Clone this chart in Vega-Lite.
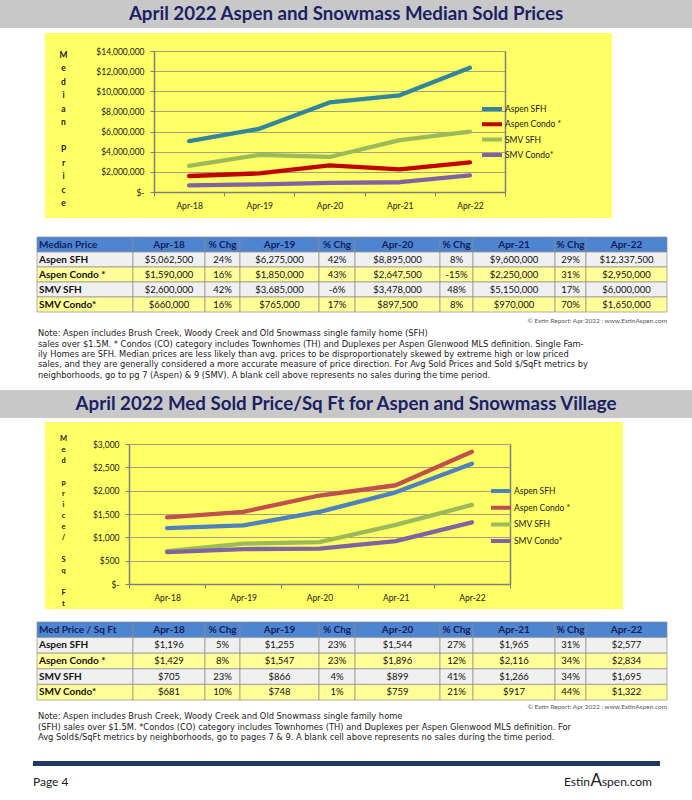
{
"$schema": "https://vega.github.io/schema/vega-lite/v6.json",
"padding": 0,
"background": "white",
"spacing": 0,
"config": {"view": {"stroke": null}, "concat": {"spacing": 0}},
"resolve": {"scale": {"color": "independent"}, "legend": {"color": "independent"}},
"datasets": {
"med": [
{"period":"Apr-18","series":"Aspen SFH","value":5062500},{"period":"Apr-19","series":"Aspen SFH","value":6275000},{"period":"Apr-20","series":"Aspen SFH","value":8895000},{"period":"Apr-21","series":"Aspen SFH","value":9600000},{"period":"Apr-22","series":"Aspen SFH","value":12337500},
{"period":"Apr-18","series":"Aspen Condo *","value":1590000},{"period":"Apr-19","series":"Aspen Condo *","value":1850000},{"period":"Apr-20","series":"Aspen Condo *","value":2647500},{"period":"Apr-21","series":"Aspen Condo *","value":2250000},{"period":"Apr-22","series":"Aspen Condo *","value":2950000},
{"period":"Apr-18","series":"SMV SFH","value":2600000},{"period":"Apr-19","series":"SMV SFH","value":3685000},{"period":"Apr-20","series":"SMV SFH","value":3478000},{"period":"Apr-21","series":"SMV SFH","value":5150000},{"period":"Apr-22","series":"SMV SFH","value":6000000},
{"period":"Apr-18","series":"SMV Condo*","value":660000},{"period":"Apr-19","series":"SMV Condo*","value":765000},{"period":"Apr-20","series":"SMV Condo*","value":897500},{"period":"Apr-21","series":"SMV Condo*","value":970000},{"period":"Apr-22","series":"SMV Condo*","value":1650000}
],
"psf": [
{"period":"Apr-18","series":"Aspen SFH","value":1196},{"period":"Apr-19","series":"Aspen SFH","value":1255},{"period":"Apr-20","series":"Aspen SFH","value":1544},{"period":"Apr-21","series":"Aspen SFH","value":1965},{"period":"Apr-22","series":"Aspen SFH","value":2577},
{"period":"Apr-18","series":"Aspen Condo *","value":1429},{"period":"Apr-19","series":"Aspen Condo *","value":1547},{"period":"Apr-20","series":"Aspen Condo *","value":1896},{"period":"Apr-21","series":"Aspen Condo *","value":2116},{"period":"Apr-22","series":"Aspen Condo *","value":2834},
{"period":"Apr-18","series":"SMV SFH","value":705},{"period":"Apr-19","series":"SMV SFH","value":866},{"period":"Apr-20","series":"SMV SFH","value":899},{"period":"Apr-21","series":"SMV SFH","value":1266},{"period":"Apr-22","series":"SMV SFH","value":1695},
{"period":"Apr-18","series":"SMV Condo*","value":681},{"period":"Apr-19","series":"SMV Condo*","value":748},{"period":"Apr-20","series":"SMV Condo*","value":759},{"period":"Apr-21","series":"SMV Condo*","value":917},{"period":"Apr-22","series":"SMV Condo*","value":1322}
],
"t1": [
{"r":0,"c0":"Median Price","a18":"Apr-18","p19":"% Chg","a19":"Apr-19","p20":"% Chg","a20":"Apr-20","p21":"% Chg","a21":"Apr-21","p22":"% Chg","a22":"Apr-22"},
{"r":1,"c0":"Aspen SFH","a18":"$5,062,500","p19":"24%","a19":"$6,275,000","p20":"42%","a20":"$8,895,000","p21":"8%","a21":"$9,600,000","p22":"29%","a22":"$12,337,500"},
{"r":2,"c0":"Aspen Condo *","a18":"$1,590,000","p19":"16%","a19":"$1,850,000","p20":"43%","a20":"$2,647,500","p21":"-15%","a21":"$2,250,000","p22":"31%","a22":"$2,950,000"},
{"r":3,"c0":"SMV SFH","a18":"$2,600,000","p19":"42%","a19":"$3,685,000","p20":"-6%","a20":"$3,478,000","p21":"48%","a21":"$5,150,000","p22":"17%","a22":"$6,000,000"},
{"r":4,"c0":"SMV Condo*","a18":"$660,000","p19":"16%","a19":"$765,000","p20":"17%","a20":"$897,500","p21":"8%","a21":"$970,000","p22":"70%","a22":"$1,650,000"}
],
"t2": [
{"r":0,"c0":"Med Price / Sq Ft","a18":"Apr-18","p19":"% Chg","a19":"Apr-19","p20":"% Chg","a20":"Apr-20","p21":"% Chg","a21":"Apr-21","p22":"% Chg","a22":"Apr-22"},
{"r":1,"c0":"Aspen SFH","a18":"$1,196","p19":"5%","a19":"$1,255","p20":"23%","a20":"$1,544","p21":"27%","a21":"$1,965","p22":"31%","a22":"$2,577"},
{"r":2,"c0":"Aspen Condo *","a18":"$1,429","p19":"8%","a19":"$1,547","p20":"23%","a20":"$1,896","p21":"12%","a21":"$2,116","p22":"34%","a22":"$2,834"},
{"r":3,"c0":"SMV SFH","a18":"$705","p19":"23%","a19":"$866","p20":"4%","a20":"$899","p21":"41%","a21":"$1,266","p22":"34%","a22":"$1,695"},
{"r":4,"c0":"SMV Condo*","a18":"$681","p19":"10%","a19":"$748","p20":"1%","a20":"$759","p21":"21%","a21":"$917","p22":"44%","a22":"$1,322"}
],
"n1": [
{"ln":1,"text":"Note: Aspen includes Brush Creek, Woody Creek and Old Snowmass single family home (SFH)"},
{"ln":2,"text":"sales over $1.5M.  * Condos (CO) category includes Townhomes (TH) and Duplexes per Aspen Glenwood MLS definition. Single Fam-"},
{"ln":3,"text":"ily Homes are SFH. Median prices are less likely than avg. prices to be disproportionately skewed by extreme high or low priced"},
{"ln":4,"text":"sales, and they are generally considered a more accurate measure of price direction. For Avg Sold Prices and Sold $/SqFt metrics by"},
{"ln":5,"text":"neighborhoods, go to pg 7 (Aspen) & 9 (SMV). A blank cell above represents no sales during the time period."}
],
"n2": [
{"ln":1,"text":"Note: Aspen includes Brush Creek, Woody Creek and Old Snowmass single family home"},
{"ln":2,"text":"(SFH) sales over $1.5M. *Condos (CO) category includes Townhomes (TH) and Duplexes per Aspen Glenwood MLS definition. For"},
{"ln":3,"text":"Avg Sold$/SqFt metrics by neighborhoods, go to pages 7 & 9. A blank cell above represents no sales during the time period."}
]
},
"vconcat": [
{"width": 692, "height": 28, "view": {"fill": "#C8C8C8"}, "data": {"values": [{"t": "April 2022 Aspen and Snowmass Median Sold Prices"}]}, "mark": {"type": "text", "font": "Lato", "fontSize": 18.7, "fontWeight": "bold", "color": "#1B2264"}, "encoding": {"text": {"field": "t", "type": "nominal"}}},
{"width": 1, "height": 5, "data": {"values": []}, "mark": "point"},
{"hconcat": [
 {"width": 45, "height": 203, "data": {"values": []}, "mark": "point"},
 {"width": 567, "height": 185, "view": {"fill": "#FFFF66"}, "data": {"name": "med"},
  "layer": [
   {"mark": {"type": "line", "strokeWidth": 4.3, "strokeCap": "round", "strokeJoin": "round"},
    "encoding": {
     "x": {"field": "period", "type": "ordinal", "sort": null, "scale": {"type": "band", "range": [109, 460], "paddingInner": 0, "paddingOuter": 0},
       "axis": {"orient": "bottom", "offset": -26, "title": null, "labelAngle": 0, "grid": false, "domainColor": "#7F7F7F", "domainWidth": 1.5, "tickBand": "extent", "tickColor": "#7F7F7F", "tickSize": 4, "labelPadding": 5, "labelFont": "Lato", "labelFontSize": 8.5, "labelColor": "#1A1A1A"}},
     "y": {"field": "value", "type": "quantitative", "scale": {"domain": [0, 14000000], "range": [159, 18], "nice": false},
       "axis": {"orient": "left", "offset": -109, "values": [0,2000000,4000000,6000000,8000000,10000000,12000000,14000000], "labelExpr": "datum.value == 0 ? '$-' : format(datum.value, '$,')", "grid": true, "gridColor": "#8C8C8C", "gridWidth": 0.8, "domainColor": "#7F7F7F", "domainWidth": 1.5, "tickColor": "#7F7F7F", "tickSize": 4, "labelFont": "Lato", "labelFontSize": 8.5, "labelColor": "#1A1A1A", "labelPadding": 6,
         "title": ["M","e","d","i","a","n"], "titleAngle": 0, "titleX": -91, "titleY": 17, "titleAlign": "center", "titleBaseline": "top", "titleFont": "Lato", "titleFontSize": 8.5, "titleFontWeight": "bold", "titleLineHeight": 13.5, "titleColor": "#1A1A1A"}},
     "color": {"field": "series", "type": "nominal", "sort": null, "scale": {"domain": ["Aspen SFH","Aspen Condo *","SMV SFH","SMV Condo*"], "range": ["#31869B","#C00000","#9BBB59","#8064A2"]},
       "legend": {"orient": "none", "legendX": 480, "legendY": 71.5, "title": null, "symbolType": "stroke", "symbolStrokeWidth": 4, "symbolSize": 400, "clipHeight": 9, "rowPadding": 6.3, "labelOffset": 1, "labelFont": "Lato", "labelFontSize": 8.5, "labelColor": "#1A1A1A"}}
    }},
   {"mark": {"type": "point", "opacity": 0},
    "encoding": {
     "x": {"field": "period", "type": "ordinal", "sort": null},
     "y": {"field": "value", "type": "quantitative", "axis": {"orient": "right", "offset": -107, "labels": false, "ticks": false, "grid": false, "domainColor": "#7F7F7F", "domainWidth": 1.5,
        "title": ["P","r","i","c","e"], "titleAngle": 0, "titleX": -442, "titleY": 111.5, "titleAlign": "center", "titleBaseline": "top", "titleFont": "Lato", "titleFontSize": 8.5, "titleFontWeight": "bold", "titleLineHeight": 13.5, "titleColor": "#1A1A1A"}}
    }}
  ],
  "resolve": {"axis": {"y": "independent"}}
 }
], "spacing": 0, "bounds": "flush"},
{"hconcat": [
 {"width": 37, "height": 75, "data": {"values": []}, "mark": "point"},
 {"width": 96, "height": 75, "data": {"name": "t1"}, "encoding": {"y": {"field": "r", "type": "ordinal", "axis": null, "scale": {"domain": [0,1,2,3,4], "paddingInner": 0, "paddingOuter": 0}}},
  "layer": [
   {"mark": {"type": "rect", "stroke": "#8E8E8E", "strokeWidth": 0.7}, "encoding": {"fill": {"field": "r", "type": "ordinal", "legend": null, "scale": {"domain": [0,1,2,3,4], "range": ["#4D85D1","#F0F0F0","#FFFF99","#F0F0F0","#FFFF99"]}}}},
   {"transform": [{"filter": "datum.r == 0"}], "mark": {"type": "text", "align": "left", "dx": 2, "font": "Lato", "fontSize": 10, "fontWeight": "bold", "color": "#13205A"}, "encoding": {"x": {"datum": 0, "type": "quantitative", "scale": {"domain": [0, 1]}, "axis": null}, "text": {"field": "c0", "type": "nominal"}}},
   {"transform": [{"filter": "datum.r > 0"}], "mark": {"type": "text", "align": "left", "dx": 2, "font": "Lato", "fontSize": 10, "fontWeight": "bold", "color": "#111111"}, "encoding": {"x": {"datum": 0, "type": "quantitative", "scale": {"domain": [0, 1]}, "axis": null}, "text": {"field": "c0", "type": "nominal"}}}
  ]},
 {"width": 72, "height": 75, "data": {"name": "t1"}, "encoding": {"y": {"field": "r", "type": "ordinal", "axis": null, "scale": {"domain": [0,1,2,3,4], "paddingInner": 0, "paddingOuter": 0}}},
  "layer": [
   {"mark": {"type": "rect", "stroke": "#8E8E8E", "strokeWidth": 0.7}, "encoding": {"fill": {"field": "r", "type": "ordinal", "legend": null, "scale": {"domain": [0,1,2,3,4], "range": ["#4D85D1","#F0F0F0","#FFFF99","#F0F0F0","#FFFF99"]}}}},
   {"transform": [{"filter": "datum.r == 0"}], "mark": {"type": "text", "font": "Lato", "fontSize": 10, "fontWeight": "bold", "color": "#13205A"}, "encoding": {"text": {"field": "a18", "type": "nominal"}}},
   {"transform": [{"filter": "datum.r > 0"}], "mark": {"type": "text", "font": "Lato", "fontSize": 9.5, "color": "#111111"}, "encoding": {"text": {"field": "a18", "type": "nominal"}}}
  ]},
 {"width": 35, "height": 75, "data": {"name": "t1"}, "encoding": {"y": {"field": "r", "type": "ordinal", "axis": null, "scale": {"domain": [0,1,2,3,4], "paddingInner": 0, "paddingOuter": 0}}},
  "layer": [
   {"mark": {"type": "rect", "stroke": "#8E8E8E", "strokeWidth": 0.7}, "encoding": {"fill": {"field": "r", "type": "ordinal", "legend": null, "scale": {"domain": [0,1,2,3,4], "range": ["#4D85D1","#F0F0F0","#FFFF99","#F0F0F0","#FFFF99"]}}}},
   {"transform": [{"filter": "datum.r == 0"}], "mark": {"type": "text", "font": "Lato", "fontSize": 10, "fontWeight": "bold", "color": "#13205A"}, "encoding": {"text": {"field": "p19", "type": "nominal"}}},
   {"transform": [{"filter": "datum.r > 0"}], "mark": {"type": "text", "font": "Lato", "fontSize": 9.5, "color": "#111111"}, "encoding": {"text": {"field": "p19", "type": "nominal"}}}
  ]},
 {"width": 79, "height": 75, "data": {"name": "t1"}, "encoding": {"y": {"field": "r", "type": "ordinal", "axis": null, "scale": {"domain": [0,1,2,3,4], "paddingInner": 0, "paddingOuter": 0}}},
  "layer": [
   {"mark": {"type": "rect", "stroke": "#8E8E8E", "strokeWidth": 0.7}, "encoding": {"fill": {"field": "r", "type": "ordinal", "legend": null, "scale": {"domain": [0,1,2,3,4], "range": ["#4D85D1","#F0F0F0","#FFFF99","#F0F0F0","#FFFF99"]}}}},
   {"transform": [{"filter": "datum.r == 0"}], "mark": {"type": "text", "font": "Lato", "fontSize": 10, "fontWeight": "bold", "color": "#13205A"}, "encoding": {"text": {"field": "a19", "type": "nominal"}}},
   {"transform": [{"filter": "datum.r > 0"}], "mark": {"type": "text", "font": "Lato", "fontSize": 9.5, "color": "#111111"}, "encoding": {"text": {"field": "a19", "type": "nominal"}}}
  ]},
 {"width": 36, "height": 75, "data": {"name": "t1"}, "encoding": {"y": {"field": "r", "type": "ordinal", "axis": null, "scale": {"domain": [0,1,2,3,4], "paddingInner": 0, "paddingOuter": 0}}},
  "layer": [
   {"mark": {"type": "rect", "stroke": "#8E8E8E", "strokeWidth": 0.7}, "encoding": {"fill": {"field": "r", "type": "ordinal", "legend": null, "scale": {"domain": [0,1,2,3,4], "range": ["#4D85D1","#F0F0F0","#FFFF99","#F0F0F0","#FFFF99"]}}}},
   {"transform": [{"filter": "datum.r == 0"}], "mark": {"type": "text", "font": "Lato", "fontSize": 10, "fontWeight": "bold", "color": "#13205A"}, "encoding": {"text": {"field": "p20", "type": "nominal"}}},
   {"transform": [{"filter": "datum.r > 0"}], "mark": {"type": "text", "font": "Lato", "fontSize": 9.5, "color": "#111111"}, "encoding": {"text": {"field": "p20", "type": "nominal"}}}
  ]},
 {"width": 85, "height": 75, "data": {"name": "t1"}, "encoding": {"y": {"field": "r", "type": "ordinal", "axis": null, "scale": {"domain": [0,1,2,3,4], "paddingInner": 0, "paddingOuter": 0}}},
  "layer": [
   {"mark": {"type": "rect", "stroke": "#8E8E8E", "strokeWidth": 0.7}, "encoding": {"fill": {"field": "r", "type": "ordinal", "legend": null, "scale": {"domain": [0,1,2,3,4], "range": ["#4D85D1","#F0F0F0","#FFFF99","#F0F0F0","#FFFF99"]}}}},
   {"transform": [{"filter": "datum.r == 0"}], "mark": {"type": "text", "font": "Lato", "fontSize": 10, "fontWeight": "bold", "color": "#13205A"}, "encoding": {"text": {"field": "a20", "type": "nominal"}}},
   {"transform": [{"filter": "datum.r > 0"}], "mark": {"type": "text", "font": "Lato", "fontSize": 9.5, "color": "#111111"}, "encoding": {"text": {"field": "a20", "type": "nominal"}}}
  ]},
 {"width": 33, "height": 75, "data": {"name": "t1"}, "encoding": {"y": {"field": "r", "type": "ordinal", "axis": null, "scale": {"domain": [0,1,2,3,4], "paddingInner": 0, "paddingOuter": 0}}},
  "layer": [
   {"mark": {"type": "rect", "stroke": "#8E8E8E", "strokeWidth": 0.7}, "encoding": {"fill": {"field": "r", "type": "ordinal", "legend": null, "scale": {"domain": [0,1,2,3,4], "range": ["#4D85D1","#F0F0F0","#FFFF99","#F0F0F0","#FFFF99"]}}}},
   {"transform": [{"filter": "datum.r == 0"}], "mark": {"type": "text", "font": "Lato", "fontSize": 10, "fontWeight": "bold", "color": "#13205A"}, "encoding": {"text": {"field": "p21", "type": "nominal"}}},
   {"transform": [{"filter": "datum.r > 0"}], "mark": {"type": "text", "font": "Lato", "fontSize": 9.5, "color": "#111111"}, "encoding": {"text": {"field": "p21", "type": "nominal"}}}
  ]},
 {"width": 82, "height": 75, "data": {"name": "t1"}, "encoding": {"y": {"field": "r", "type": "ordinal", "axis": null, "scale": {"domain": [0,1,2,3,4], "paddingInner": 0, "paddingOuter": 0}}},
  "layer": [
   {"mark": {"type": "rect", "stroke": "#8E8E8E", "strokeWidth": 0.7}, "encoding": {"fill": {"field": "r", "type": "ordinal", "legend": null, "scale": {"domain": [0,1,2,3,4], "range": ["#4D85D1","#F0F0F0","#FFFF99","#F0F0F0","#FFFF99"]}}}},
   {"transform": [{"filter": "datum.r == 0"}], "mark": {"type": "text", "font": "Lato", "fontSize": 10, "fontWeight": "bold", "color": "#13205A"}, "encoding": {"text": {"field": "a21", "type": "nominal"}}},
   {"transform": [{"filter": "datum.r > 0"}], "mark": {"type": "text", "font": "Lato", "fontSize": 9.5, "color": "#111111"}, "encoding": {"text": {"field": "a21", "type": "nominal"}}}
  ]},
 {"width": 31, "height": 75, "data": {"name": "t1"}, "encoding": {"y": {"field": "r", "type": "ordinal", "axis": null, "scale": {"domain": [0,1,2,3,4], "paddingInner": 0, "paddingOuter": 0}}},
  "layer": [
   {"mark": {"type": "rect", "stroke": "#8E8E8E", "strokeWidth": 0.7}, "encoding": {"fill": {"field": "r", "type": "ordinal", "legend": null, "scale": {"domain": [0,1,2,3,4], "range": ["#4D85D1","#F0F0F0","#FFFF99","#F0F0F0","#FFFF99"]}}}},
   {"transform": [{"filter": "datum.r == 0"}], "mark": {"type": "text", "font": "Lato", "fontSize": 10, "fontWeight": "bold", "color": "#13205A"}, "encoding": {"text": {"field": "p22", "type": "nominal"}}},
   {"transform": [{"filter": "datum.r > 0"}], "mark": {"type": "text", "font": "Lato", "fontSize": 9.5, "color": "#111111"}, "encoding": {"text": {"field": "p22", "type": "nominal"}}}
  ]},
 {"width": 81, "height": 75, "data": {"name": "t1"}, "encoding": {"y": {"field": "r", "type": "ordinal", "axis": null, "scale": {"domain": [0,1,2,3,4], "paddingInner": 0, "paddingOuter": 0}}},
  "layer": [
   {"mark": {"type": "rect", "stroke": "#8E8E8E", "strokeWidth": 0.7}, "encoding": {"fill": {"field": "r", "type": "ordinal", "legend": null, "scale": {"domain": [0,1,2,3,4], "range": ["#4D85D1","#F0F0F0","#FFFF99","#F0F0F0","#FFFF99"]}}}},
   {"transform": [{"filter": "datum.r == 0"}], "mark": {"type": "text", "font": "Lato", "fontSize": 10, "fontWeight": "bold", "color": "#13205A"}, "encoding": {"text": {"field": "a22", "type": "nominal"}}},
   {"transform": [{"filter": "datum.r > 0"}], "mark": {"type": "text", "font": "Lato", "fontSize": 9.5, "color": "#111111"}, "encoding": {"text": {"field": "a22", "type": "nominal"}}}
  ]}
], "spacing": 0, "bounds": "flush"},
{"hconcat": [
 {"width": 37, "height": 16, "data": {"values": []}, "mark": "point"},
 {"width": 630, "height": 16, "data": {"values": [{"t": "© Estin Report:  Apr 2022 : www.EstinAspen.com"}]}, "mark": {"type": "text", "align": "right", "font": "Lato", "fontSize": 6.5, "color": "#595959"}, "encoding": {"x": {"datum": 1, "type": "quantitative", "scale": {"domain": [0, 1]}, "axis": null}, "text": {"field": "t", "type": "nominal"}}}
], "spacing": 0, "bounds": "flush"},
{"hconcat": [
 {"width": 38, "height": 61, "data": {"values": []}, "mark": "point"},
 {"width": 630, "height": 52, "data": {"name": "n1"}, "mark": {"type": "text", "align": "left", "font": "DejaVu Sans", "fontSize": 8.3, "color": "#1A1A1A"},
  "encoding": {"x": {"datum": 0, "type": "quantitative", "scale": {"domain": [0, 1]}, "axis": null}, "y": {"field": "ln", "type": "ordinal", "axis": null, "scale": {"paddingInner": 0, "paddingOuter": 0}}, "text": {"field": "text", "type": "nominal"}}}
], "spacing": 0, "bounds": "flush"},
{"width": 692, "height": 28, "view": {"fill": "#C8C8C8"}, "data": {"values": [{"t": "April 2022 Med Sold Price/Sq Ft for Aspen and Snowmass Village"}]}, "mark": {"type": "text", "font": "Lato", "fontSize": 18.7, "fontWeight": "bold", "color": "#1B2264"}, "encoding": {"text": {"field": "t", "type": "nominal"}}},
{"width": 1, "height": 4, "data": {"values": []}, "mark": "point"},
{"hconcat": [
 {"width": 45, "height": 199, "data": {"values": []}, "mark": "point"},
 {"width": 578, "height": 187, "view": {"fill": "#FFFF66"}, "data": {"name": "psf"},
  "layer": [
   {"mark": {"type": "line", "strokeWidth": 4.3, "strokeCap": "round", "strokeJoin": "round"},
    "encoding": {
     "x": {"field": "period", "type": "ordinal", "sort": null, "scale": {"type": "band", "range": [84, 465], "paddingInner": 0, "paddingOuter": 0},
       "axis": {"orient": "bottom", "offset": -25, "labelAngle": 0, "grid": false, "domainColor": "#7F7F7F", "domainWidth": 1.5, "tickBand": "extent", "tickColor": "#7F7F7F", "tickSize": 4, "labelPadding": 5, "labelFont": "Lato", "labelFontSize": 8.5, "labelColor": "#1A1A1A",
         "title": ["S","q"], "titleAngle": 0, "titleX": 18, "titleY": -29, "titleAlign": "center", "titleBaseline": "top", "titleFont": "Lato", "titleFontSize": 7.5, "titleFontWeight": "bold", "titleLineHeight": 11, "titleColor": "#1A1A1A"}},
     "y": {"field": "value", "type": "quantitative", "scale": {"domain": [0, 3000], "range": [162, 22], "nice": false},
       "axis": {"orient": "left", "offset": -84, "values": [0,500,1000,1500,2000,2500,3000], "labelExpr": "datum.value == 0 ? '$-' : format(datum.value, '$,')", "grid": true, "gridColor": "#8C8C8C", "gridWidth": 0.8, "domainColor": "#7F7F7F", "domainWidth": 1.5, "tickColor": "#7F7F7F", "tickSize": 4, "labelFont": "Lato", "labelFontSize": 8.5, "labelColor": "#1A1A1A", "labelPadding": 6,
         "title": ["M","e","d"], "titleAngle": 0, "titleX": -66, "titleY": 12, "titleAlign": "center", "titleBaseline": "top", "titleFont": "Lato", "titleFontSize": 7.5, "titleFontWeight": "bold", "titleLineHeight": 11, "titleColor": "#1A1A1A"}},
     "color": {"field": "series", "type": "nominal", "sort": null, "scale": {"domain": ["Aspen SFH","Aspen Condo *","SMV SFH","SMV Condo*"], "range": ["#4F81BD","#C0504D","#9BBB59","#8064A2"]},
       "legend": {"orient": "none", "legendX": 489, "legendY": 64.5, "title": null, "symbolType": "stroke", "symbolStrokeWidth": 4, "symbolSize": 400, "clipHeight": 9, "rowPadding": 7.7, "labelOffset": 1, "labelFont": "Lato", "labelFontSize": 8.5, "labelColor": "#1A1A1A"}}
    }},
   {"mark": {"type": "point", "opacity": 0},
    "encoding": {
     "x": {"field": "period", "type": "ordinal", "sort": null, "axis": {"orient": "top", "labels": false, "ticks": false, "domain": false, "grid": false,
         "title": ["F","t"], "titleAngle": 0, "titleX": 18, "titleY": 166, "titleAlign": "center", "titleBaseline": "top", "titleFont": "Lato", "titleFontSize": 7.5, "titleFontWeight": "bold", "titleLineHeight": 11, "titleColor": "#1A1A1A"}},
     "y": {"field": "value", "type": "quantitative", "axis": {"orient": "right", "offset": -113, "labels": false, "ticks": false, "grid": false, "domainColor": "#7F7F7F", "domainWidth": 1.5,
         "title": ["p","r","i","c","e","/"], "titleAngle": 0, "titleX": -447, "titleY": 56, "titleAlign": "center", "titleBaseline": "top", "titleFont": "Lato", "titleFontSize": 7.5, "titleFontWeight": "bold", "titleLineHeight": 11, "titleColor": "#1A1A1A"}}
    }}
  ],
  "resolve": {"axis": {"y": "independent", "x": "independent"}}
 }
], "spacing": 0, "bounds": "flush"},
{"hconcat": [
 {"width": 37, "height": 78, "data": {"values": []}, "mark": "point"},
 {"width": 96, "height": 78, "data": {"name": "t2"}, "encoding": {"y": {"field": "r", "type": "ordinal", "axis": null, "scale": {"domain": [0,1,2,3,4], "paddingInner": 0, "paddingOuter": 0}}},
  "layer": [
   {"mark": {"type": "rect", "stroke": "#8E8E8E", "strokeWidth": 0.7}, "encoding": {"fill": {"field": "r", "type": "ordinal", "legend": null, "scale": {"domain": [0,1,2,3,4], "range": ["#4D85D1","#F0F0F0","#FFFF99","#F0F0F0","#FFFF99"]}}}},
   {"transform": [{"filter": "datum.r == 0"}], "mark": {"type": "text", "align": "left", "dx": 2, "font": "Lato", "fontSize": 10, "fontWeight": "bold", "color": "#13205A"}, "encoding": {"x": {"datum": 0, "type": "quantitative", "scale": {"domain": [0, 1]}, "axis": null}, "text": {"field": "c0", "type": "nominal"}}},
   {"transform": [{"filter": "datum.r > 0"}], "mark": {"type": "text", "align": "left", "dx": 2, "font": "Lato", "fontSize": 10, "fontWeight": "bold", "color": "#111111"}, "encoding": {"x": {"datum": 0, "type": "quantitative", "scale": {"domain": [0, 1]}, "axis": null}, "text": {"field": "c0", "type": "nominal"}}}
  ]},
 {"width": 72, "height": 78, "data": {"name": "t2"}, "encoding": {"y": {"field": "r", "type": "ordinal", "axis": null, "scale": {"domain": [0,1,2,3,4], "paddingInner": 0, "paddingOuter": 0}}},
  "layer": [
   {"mark": {"type": "rect", "stroke": "#8E8E8E", "strokeWidth": 0.7}, "encoding": {"fill": {"field": "r", "type": "ordinal", "legend": null, "scale": {"domain": [0,1,2,3,4], "range": ["#4D85D1","#F0F0F0","#FFFF99","#F0F0F0","#FFFF99"]}}}},
   {"transform": [{"filter": "datum.r == 0"}], "mark": {"type": "text", "font": "Lato", "fontSize": 10, "fontWeight": "bold", "color": "#13205A"}, "encoding": {"text": {"field": "a18", "type": "nominal"}}},
   {"transform": [{"filter": "datum.r > 0"}], "mark": {"type": "text", "font": "Lato", "fontSize": 9.5, "color": "#111111"}, "encoding": {"text": {"field": "a18", "type": "nominal"}}}
  ]},
 {"width": 35, "height": 78, "data": {"name": "t2"}, "encoding": {"y": {"field": "r", "type": "ordinal", "axis": null, "scale": {"domain": [0,1,2,3,4], "paddingInner": 0, "paddingOuter": 0}}},
  "layer": [
   {"mark": {"type": "rect", "stroke": "#8E8E8E", "strokeWidth": 0.7}, "encoding": {"fill": {"field": "r", "type": "ordinal", "legend": null, "scale": {"domain": [0,1,2,3,4], "range": ["#4D85D1","#F0F0F0","#FFFF99","#F0F0F0","#FFFF99"]}}}},
   {"transform": [{"filter": "datum.r == 0"}], "mark": {"type": "text", "font": "Lato", "fontSize": 10, "fontWeight": "bold", "color": "#13205A"}, "encoding": {"text": {"field": "p19", "type": "nominal"}}},
   {"transform": [{"filter": "datum.r > 0"}], "mark": {"type": "text", "font": "Lato", "fontSize": 9.5, "color": "#111111"}, "encoding": {"text": {"field": "p19", "type": "nominal"}}}
  ]},
 {"width": 79, "height": 78, "data": {"name": "t2"}, "encoding": {"y": {"field": "r", "type": "ordinal", "axis": null, "scale": {"domain": [0,1,2,3,4], "paddingInner": 0, "paddingOuter": 0}}},
  "layer": [
   {"mark": {"type": "rect", "stroke": "#8E8E8E", "strokeWidth": 0.7}, "encoding": {"fill": {"field": "r", "type": "ordinal", "legend": null, "scale": {"domain": [0,1,2,3,4], "range": ["#4D85D1","#F0F0F0","#FFFF99","#F0F0F0","#FFFF99"]}}}},
   {"transform": [{"filter": "datum.r == 0"}], "mark": {"type": "text", "font": "Lato", "fontSize": 10, "fontWeight": "bold", "color": "#13205A"}, "encoding": {"text": {"field": "a19", "type": "nominal"}}},
   {"transform": [{"filter": "datum.r > 0"}], "mark": {"type": "text", "font": "Lato", "fontSize": 9.5, "color": "#111111"}, "encoding": {"text": {"field": "a19", "type": "nominal"}}}
  ]},
 {"width": 36, "height": 78, "data": {"name": "t2"}, "encoding": {"y": {"field": "r", "type": "ordinal", "axis": null, "scale": {"domain": [0,1,2,3,4], "paddingInner": 0, "paddingOuter": 0}}},
  "layer": [
   {"mark": {"type": "rect", "stroke": "#8E8E8E", "strokeWidth": 0.7}, "encoding": {"fill": {"field": "r", "type": "ordinal", "legend": null, "scale": {"domain": [0,1,2,3,4], "range": ["#4D85D1","#F0F0F0","#FFFF99","#F0F0F0","#FFFF99"]}}}},
   {"transform": [{"filter": "datum.r == 0"}], "mark": {"type": "text", "font": "Lato", "fontSize": 10, "fontWeight": "bold", "color": "#13205A"}, "encoding": {"text": {"field": "p20", "type": "nominal"}}},
   {"transform": [{"filter": "datum.r > 0"}], "mark": {"type": "text", "font": "Lato", "fontSize": 9.5, "color": "#111111"}, "encoding": {"text": {"field": "p20", "type": "nominal"}}}
  ]},
 {"width": 85, "height": 78, "data": {"name": "t2"}, "encoding": {"y": {"field": "r", "type": "ordinal", "axis": null, "scale": {"domain": [0,1,2,3,4], "paddingInner": 0, "paddingOuter": 0}}},
  "layer": [
   {"mark": {"type": "rect", "stroke": "#8E8E8E", "strokeWidth": 0.7}, "encoding": {"fill": {"field": "r", "type": "ordinal", "legend": null, "scale": {"domain": [0,1,2,3,4], "range": ["#4D85D1","#F0F0F0","#FFFF99","#F0F0F0","#FFFF99"]}}}},
   {"transform": [{"filter": "datum.r == 0"}], "mark": {"type": "text", "font": "Lato", "fontSize": 10, "fontWeight": "bold", "color": "#13205A"}, "encoding": {"text": {"field": "a20", "type": "nominal"}}},
   {"transform": [{"filter": "datum.r > 0"}], "mark": {"type": "text", "font": "Lato", "fontSize": 9.5, "color": "#111111"}, "encoding": {"text": {"field": "a20", "type": "nominal"}}}
  ]},
 {"width": 33, "height": 78, "data": {"name": "t2"}, "encoding": {"y": {"field": "r", "type": "ordinal", "axis": null, "scale": {"domain": [0,1,2,3,4], "paddingInner": 0, "paddingOuter": 0}}},
  "layer": [
   {"mark": {"type": "rect", "stroke": "#8E8E8E", "strokeWidth": 0.7}, "encoding": {"fill": {"field": "r", "type": "ordinal", "legend": null, "scale": {"domain": [0,1,2,3,4], "range": ["#4D85D1","#F0F0F0","#FFFF99","#F0F0F0","#FFFF99"]}}}},
   {"transform": [{"filter": "datum.r == 0"}], "mark": {"type": "text", "font": "Lato", "fontSize": 10, "fontWeight": "bold", "color": "#13205A"}, "encoding": {"text": {"field": "p21", "type": "nominal"}}},
   {"transform": [{"filter": "datum.r > 0"}], "mark": {"type": "text", "font": "Lato", "fontSize": 9.5, "color": "#111111"}, "encoding": {"text": {"field": "p21", "type": "nominal"}}}
  ]},
 {"width": 82, "height": 78, "data": {"name": "t2"}, "encoding": {"y": {"field": "r", "type": "ordinal", "axis": null, "scale": {"domain": [0,1,2,3,4], "paddingInner": 0, "paddingOuter": 0}}},
  "layer": [
   {"mark": {"type": "rect", "stroke": "#8E8E8E", "strokeWidth": 0.7}, "encoding": {"fill": {"field": "r", "type": "ordinal", "legend": null, "scale": {"domain": [0,1,2,3,4], "range": ["#4D85D1","#F0F0F0","#FFFF99","#F0F0F0","#FFFF99"]}}}},
   {"transform": [{"filter": "datum.r == 0"}], "mark": {"type": "text", "font": "Lato", "fontSize": 10, "fontWeight": "bold", "color": "#13205A"}, "encoding": {"text": {"field": "a21", "type": "nominal"}}},
   {"transform": [{"filter": "datum.r > 0"}], "mark": {"type": "text", "font": "Lato", "fontSize": 9.5, "color": "#111111"}, "encoding": {"text": {"field": "a21", "type": "nominal"}}}
  ]},
 {"width": 31, "height": 78, "data": {"name": "t2"}, "encoding": {"y": {"field": "r", "type": "ordinal", "axis": null, "scale": {"domain": [0,1,2,3,4], "paddingInner": 0, "paddingOuter": 0}}},
  "layer": [
   {"mark": {"type": "rect", "stroke": "#8E8E8E", "strokeWidth": 0.7}, "encoding": {"fill": {"field": "r", "type": "ordinal", "legend": null, "scale": {"domain": [0,1,2,3,4], "range": ["#4D85D1","#F0F0F0","#FFFF99","#F0F0F0","#FFFF99"]}}}},
   {"transform": [{"filter": "datum.r == 0"}], "mark": {"type": "text", "font": "Lato", "fontSize": 10, "fontWeight": "bold", "color": "#13205A"}, "encoding": {"text": {"field": "p22", "type": "nominal"}}},
   {"transform": [{"filter": "datum.r > 0"}], "mark": {"type": "text", "font": "Lato", "fontSize": 9.5, "color": "#111111"}, "encoding": {"text": {"field": "p22", "type": "nominal"}}}
  ]},
 {"width": 81, "height": 78, "data": {"name": "t2"}, "encoding": {"y": {"field": "r", "type": "ordinal", "axis": null, "scale": {"domain": [0,1,2,3,4], "paddingInner": 0, "paddingOuter": 0}}},
  "layer": [
   {"mark": {"type": "rect", "stroke": "#8E8E8E", "strokeWidth": 0.7}, "encoding": {"fill": {"field": "r", "type": "ordinal", "legend": null, "scale": {"domain": [0,1,2,3,4], "range": ["#4D85D1","#F0F0F0","#FFFF99","#F0F0F0","#FFFF99"]}}}},
   {"transform": [{"filter": "datum.r == 0"}], "mark": {"type": "text", "font": "Lato", "fontSize": 10, "fontWeight": "bold", "color": "#13205A"}, "encoding": {"text": {"field": "a22", "type": "nominal"}}},
   {"transform": [{"filter": "datum.r > 0"}], "mark": {"type": "text", "font": "Lato", "fontSize": 9.5, "color": "#111111"}, "encoding": {"text": {"field": "a22", "type": "nominal"}}}
  ]}
], "spacing": 0, "bounds": "flush"},
{"hconcat": [
 {"width": 37, "height": 11, "data": {"values": []}, "mark": "point"},
 {"width": 630, "height": 11, "data": {"values": [{"t": "© Estin Report:  Apr 2022 : www.EstinAspen.com"}]}, "mark": {"type": "text", "align": "right", "font": "Lato", "fontSize": 6.5, "color": "#595959"}, "encoding": {"x": {"datum": 1, "type": "quantitative", "scale": {"domain": [0, 1]}, "axis": null}, "text": {"field": "t", "type": "nominal"}}}
], "spacing": 0, "bounds": "flush"},
{"hconcat": [
 {"width": 38, "height": 49, "data": {"values": []}, "mark": "point"},
 {"width": 630, "height": 31.2, "data": {"name": "n2"}, "mark": {"type": "text", "align": "left", "font": "DejaVu Sans", "fontSize": 8.3, "color": "#1A1A1A"},
  "encoding": {"x": {"datum": 0, "type": "quantitative", "scale": {"domain": [0, 1]}, "axis": null}, "y": {"field": "ln", "type": "ordinal", "axis": null, "scale": {"paddingInner": 0, "paddingOuter": 0}}, "text": {"field": "text", "type": "nominal"}}}
], "spacing": 0, "bounds": "flush"},
{"hconcat": [
 {"width": 33, "height": 5, "data": {"values": []}, "mark": "point"},
 {"width": 627, "height": 5, "view": {"fill": "#1F3864"}, "data": {"values": []}, "mark": "point"}
], "spacing": 0, "bounds": "flush"},
{"hconcat": [
 {"width": 33, "height": 38, "data": {"values": []}, "mark": "point"},
 {"width": 619, "height": 32, "data": {"values": [{"left": "Page 4", "r1": "Estin", "r2": "A", "r3": "spen.com"}]},
  "layer": [
   {"mark": {"type": "text", "align": "left", "baseline": "alphabetic", "dy": 4, "font": "Lato", "fontSize": 12, "color": "#1A1A1A"}, "encoding": {"x": {"datum": 0, "type": "quantitative", "scale": {"domain": [0, 1]}, "axis": null}, "text": {"field": "left", "type": "nominal"}}},
   {"mark": {"type": "text", "align": "right", "baseline": "alphabetic", "dy": 4, "font": "Lato", "fontSize": 12, "color": "#1A1A1A"}, "encoding": {"x": {"datum": 1, "type": "quantitative"}, "text": {"field": "r3", "type": "nominal"}}},
   {"mark": {"type": "text", "align": "right", "baseline": "alphabetic", "dy": 4, "dx": -50, "font": "Lato", "fontSize": 17, "color": "#1A1A1A"}, "encoding": {"x": {"datum": 1, "type": "quantitative"}, "text": {"field": "r2", "type": "nominal"}}},
   {"mark": {"type": "text", "align": "right", "baseline": "alphabetic", "dy": 4, "dx": -62, "font": "Lato", "fontSize": 12, "color": "#1A1A1A"}, "encoding": {"x": {"datum": 1, "type": "quantitative"}, "text": {"field": "r1", "type": "nominal"}}}
  ]}
], "spacing": 0, "bounds": "flush"}
]
}
